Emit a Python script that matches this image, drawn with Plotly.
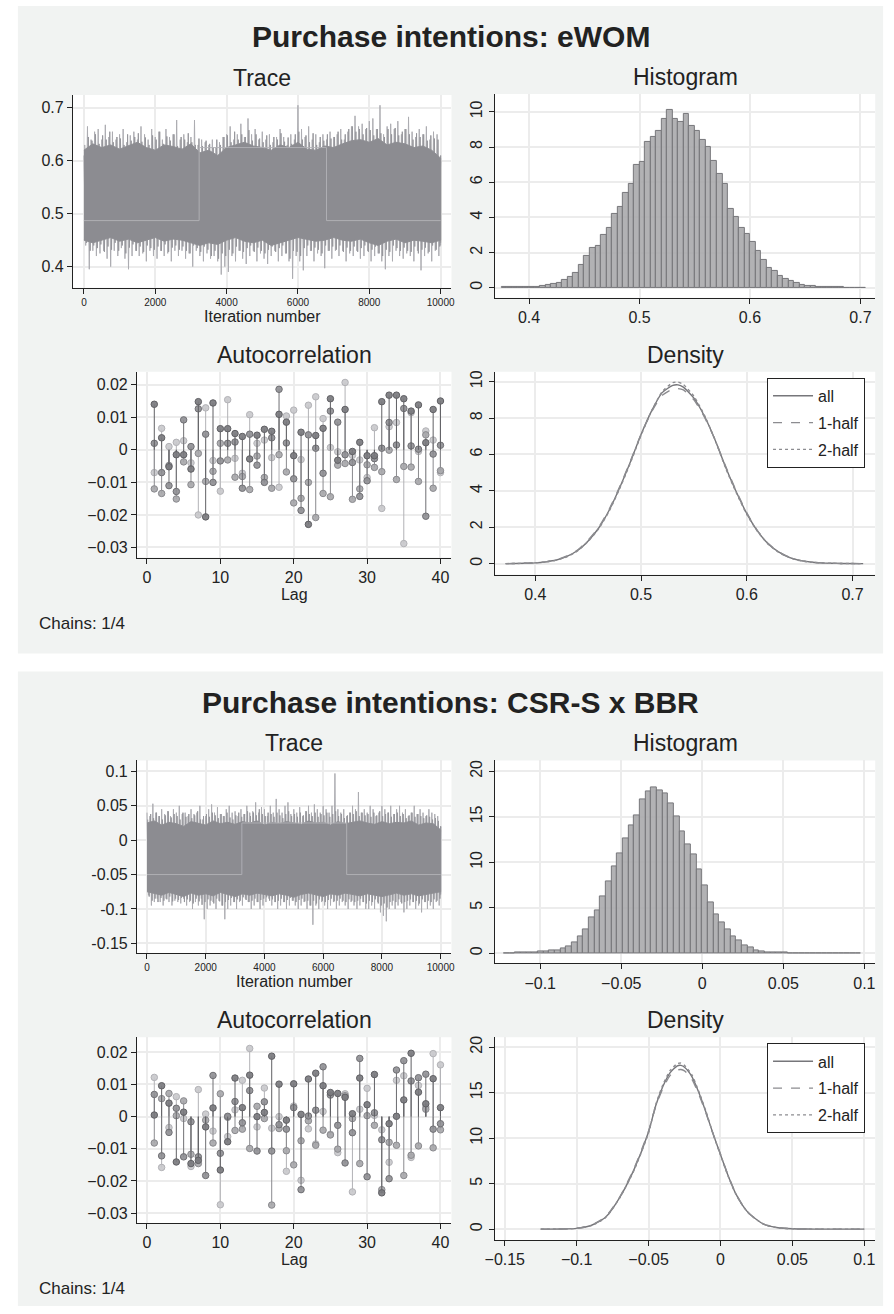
import plotly.graph_objects as go
import numpy as np

# ------------------------------------------------------------------ DATA
ITER_MAX = 10000
lags = list(range(1, 41))

# --- Panel A: Purchase intentions: eWOM
a_trace_hi = [0.610, 0.665, 0.640, 0.655, 0.660, 0.640,
              0.668, 0.645, 0.655, 0.640, 0.650,
              0.660, 0.635, 0.648, 0.655, 0.640,
              0.665, 0.650, 0.640, 0.660, 0.645,
              0.655, 0.640, 0.660, 0.645, 0.650,
              0.677, 0.640, 0.650, 0.635, 0.645,
              0.677, 0.630, 0.640, 0.635, 0.630,
              0.640, 0.625, 0.635, 0.645, 0.650,
              0.665, 0.640, 0.650, 0.670, 0.645,
              0.680, 0.650, 0.660, 0.640, 0.655,
              0.640, 0.650, 0.635, 0.645, 0.660,
              0.645, 0.630, 0.650, 0.640, 0.705,
              0.660, 0.645, 0.665, 0.640, 0.650,
              0.635, 0.650, 0.640, 0.655, 0.645,
              0.650, 0.660, 0.640, 0.655, 0.665,
              0.685, 0.665, 0.670, 0.660, 0.675,
              0.680, 0.660, 0.705, 0.650, 0.665,
              0.670, 0.660, 0.675, 0.650, 0.660,
              0.683, 0.655, 0.645, 0.660, 0.650,
              0.665, 0.640, 0.655, 0.650, 0.600]
a_trace_lo = [0.440, 0.395, 0.430, 0.420, 0.425, 0.430,
              0.415, 0.400, 0.430, 0.420, 0.435,
              0.415, 0.395, 0.420, 0.430, 0.420,
              0.425, 0.410, 0.430, 0.420, 0.415,
              0.430, 0.420, 0.425, 0.410, 0.430,
              0.420, 0.430, 0.415, 0.425, 0.400,
              0.430, 0.420, 0.410, 0.425, 0.415,
              0.420, 0.410, 0.385, 0.400, 0.390,
              0.420, 0.410, 0.430, 0.415, 0.405,
              0.420, 0.430, 0.410, 0.425, 0.415,
              0.405, 0.420, 0.430, 0.410, 0.420,
              0.425, 0.410, 0.377, 0.420, 0.410,
              0.393, 0.420, 0.430, 0.410, 0.425,
              0.420, 0.397, 0.430, 0.415, 0.430,
              0.420, 0.430, 0.410, 0.425, 0.420,
              0.430, 0.415, 0.420, 0.430, 0.410,
              0.420, 0.425, 0.410, 0.395, 0.420,
              0.410, 0.430, 0.420, 0.415, 0.425,
              0.420, 0.410, 0.430, 0.393, 0.420,
              0.425, 0.410, 0.430, 0.420, 0.440]
a_trace_hi2 = [0.630, 0.645, 0.638, 0.650, 0.632, 0.648, 0.640, 0.655, 0.635, 0.645,
               0.642, 0.630, 0.650, 0.638, 0.645, 0.652, 0.636, 0.644, 0.630, 0.648,
               0.640, 0.655, 0.632, 0.646, 0.638, 0.650, 0.628, 0.645, 0.640, 0.652,
               0.635, 0.630, 0.642, 0.628, 0.638, 0.632, 0.625, 0.640, 0.630, 0.645,
               0.648, 0.635, 0.655, 0.640, 0.650, 0.645, 0.658, 0.638, 0.650, 0.642,
               0.635, 0.648, 0.630, 0.645, 0.640, 0.652, 0.636, 0.644, 0.632, 0.650,
               0.655, 0.640, 0.648, 0.635, 0.652, 0.630, 0.645, 0.638, 0.650, 0.642,
               0.645, 0.655, 0.640, 0.650, 0.660, 0.665, 0.655, 0.660, 0.650, 0.662,
               0.658, 0.648, 0.660, 0.652, 0.645, 0.660, 0.650, 0.662, 0.648, 0.655,
               0.660, 0.650, 0.640, 0.652, 0.645, 0.650, 0.638, 0.648, 0.642, 0.640, 0.610]
a_trace_lo2 = [0.445, 0.430, 0.440, 0.435, 0.442, 0.428, 0.438, 0.432, 0.445, 0.430,
               0.440, 0.425, 0.436, 0.442, 0.430, 0.438, 0.428, 0.440, 0.435, 0.432,
               0.438, 0.430, 0.442, 0.428, 0.436, 0.440, 0.432, 0.438, 0.430, 0.425,
               0.440, 0.435, 0.428, 0.438, 0.432, 0.420, 0.430, 0.415, 0.425, 0.420,
               0.432, 0.425, 0.438, 0.430, 0.428, 0.435, 0.440, 0.428, 0.436, 0.430,
               0.425, 0.432, 0.438, 0.428, 0.435, 0.440, 0.425, 0.415, 0.430, 0.428,
               0.420, 0.435, 0.440, 0.430, 0.436, 0.432, 0.425, 0.440, 0.430, 0.438,
               0.432, 0.440, 0.428, 0.436, 0.430, 0.438, 0.428, 0.435, 0.440, 0.428,
               0.432, 0.438, 0.425, 0.420, 0.432, 0.428, 0.440, 0.435, 0.430, 0.436,
               0.430, 0.428, 0.438, 0.425, 0.432, 0.436, 0.428, 0.440, 0.432, 0.438, 0.445]
a_core_hi = [0.620, 0.632, 0.625, 0.630, 0.622, 0.628, 0.635, 0.625, 0.620, 0.630,
             0.627, 0.622, 0.632, 0.615, 0.620, 0.610, 0.625, 0.630, 0.635, 0.628,
             0.625, 0.620, 0.630, 0.625, 0.635, 0.622, 0.620, 0.628, 0.625, 0.632,
             0.638, 0.640, 0.635, 0.642, 0.630, 0.635, 0.632, 0.625, 0.628, 0.620, 0.605]
a_core_lo = [0.450, 0.445, 0.450, 0.455, 0.448, 0.452, 0.445, 0.450, 0.455, 0.448,
             0.452, 0.450, 0.445, 0.440, 0.445, 0.442, 0.450, 0.455, 0.448, 0.445,
             0.450, 0.440, 0.445, 0.450, 0.455, 0.452, 0.448, 0.450, 0.455, 0.450,
             0.448, 0.452, 0.445, 0.440, 0.448, 0.452, 0.445, 0.450, 0.448, 0.445, 0.450]
a_step_x = [0, 3230, 3230, 6800, 6800, 10000]
a_step_y = [0.487, 0.487, 0.625, 0.625, 0.487, 0.487]

a_hist_start = 0.375
a_hist_width = 0.005
a_hist = [0.02, 0.02, 0.03, 0.03, 0.04, 0.05, 0.07, 0.10, 0.14, 0.20,
          0.30, 0.45, 0.60, 0.85, 1.30, 1.80, 2.25, 2.35, 3.00, 3.40,
          4.20, 4.60, 5.40, 5.90, 7.00, 7.15, 8.30, 8.60, 8.90, 9.60,
          10.10, 9.60, 9.40, 9.90, 9.20, 8.90, 8.40, 8.00, 7.20, 6.50,
          5.90, 4.50, 4.00, 3.40, 3.05, 2.60, 2.10, 1.60, 1.15, 0.95,
          0.70, 0.50, 0.36, 0.25, 0.15, 0.10, 0.08, 0.05, 0.04, 0.03,
          0.02, 0.02, 0.01, 0.01, 0.01, 0.01]

a_ac_c1 = [0.014, 0.0037, -0.0052, -0.0015, -0.0015, -0.0059, 0.0148, -0.0206, 0.0144, 0.0065,
           0.0065, 0.005, 0.0041, -0.0028, 0.0045, 0.0063, 0.0057, 0.0109, 0.0085, -0.0018,
           0.0054, -0.0229, 0.0044, 0.0066, 0.0157, -0.0032, 0.0124, -0.0005, 0.0023, -0.0018,
           -0.0018, 0.0148, 0.0168, 0.0168, 0.0157, 0.0119, 0.0138, 0.0022, 0.0124, 0.015]
a_ac_c2 = [0.002, -0.007, -0.011, -0.0128, 0.0092, 0.001, 0.0126, 0.0048, -0.010, -0.0034,
           0.002, 0.0024, -0.0118, 0.0048, -0.0047, -0.010, 0.0037, 0.0186, 0.0021, -0.0089,
           -0.0186, 0.0046, 0.0005, -0.0072, 0.0119, 0.0085, -0.0015, -0.0039, -0.0143, -0.0095,
           -0.0027, 0.0005, 0.0084, 0.0015, 0.0127, 0.0012, 0.0002, -0.0204, -0.0013, 0.0014]
a_ac_c3 = [-0.012, -0.0134, -0.0048, -0.0151, -0.0037, -0.0107, -0.0011, -0.0097, -0.0066, 0.002,
           -0.0031, -0.0084, -0.0082, -0.0122, -0.0019, -0.0085, -0.0118, -0.0015, -0.0068, -0.0163,
           -0.0149, -0.010, -0.0208, -0.0134, -0.0144, -0.0047, -0.0042, -0.0152, -0.012, -0.0046,
           -0.0054, -0.0067, -0.0001, -0.0091, -0.0051, -0.0053, -0.0097, 0.0046, -0.0118, -0.0064]
a_ac_c4 = [-0.007, 0.0066, 0.001, 0.0023, 0.0028, -0.004, -0.020, 0.0129, -0.0033, -0.0127,
           0.0154, -0.0026, -0.0072, 0.0108, 0.002, 0.003, -0.0024, -0.0115, 0.0104, 0.0122,
           -0.003, 0.0137, 0.0163, 0.0096, 0.0007, -0.0006, 0.0207, -0.0017, -0.0031, -0.0085,
           0.0068, -0.018, 0.0071, 0.0084, -0.0288, 0.0114, -0.0005, 0.0058, 0.003, -0.007]

a_dens_x = [0.372, 0.39, 0.40, 0.41, 0.42, 0.43, 0.44, 0.45, 0.46, 0.47, 0.48, 0.49,
            0.50, 0.51, 0.52, 0.53, 0.535, 0.54, 0.55, 0.56, 0.57, 0.58, 0.59, 0.60,
            0.61, 0.62, 0.63, 0.64, 0.65, 0.66, 0.67, 0.68, 0.69, 0.71]
a_dens_all = [0.0, 0.02, 0.04, 0.10, 0.20, 0.40, 0.72, 1.25, 1.96, 2.95, 4.20, 5.60,
              7.10, 8.40, 9.40, 9.80, 9.83, 9.70, 9.10, 8.10, 6.80, 5.30, 3.95, 2.75,
              1.80, 1.10, 0.65, 0.35, 0.18, 0.09, 0.04, 0.02, 0.01, 0.0]
a_dens_h1 = [0.0, 0.02, 0.05, 0.10, 0.21, 0.42, 0.75, 1.30, 2.00, 3.00, 4.25, 5.65,
             7.10, 8.35, 9.25, 9.60, 9.62, 9.55, 9.00, 8.05, 6.80, 5.35, 4.00, 2.80,
             1.82, 1.12, 0.66, 0.36, 0.18, 0.09, 0.04, 0.02, 0.01, 0.0]
a_dens_h2 = [0.0, 0.02, 0.04, 0.09, 0.19, 0.38, 0.70, 1.22, 1.92, 2.90, 4.15, 5.55,
             7.05, 8.40, 9.45, 9.95, 9.98, 9.85, 9.20, 8.15, 6.80, 5.25, 3.90, 2.70,
             1.78, 1.08, 0.63, 0.34, 0.17, 0.08, 0.04, 0.02, 0.01, 0.0]

# --- Panel B: Purchase intentions: CSR-S x BBR
b_trace_hi = [0.040, 0.035, 0.053, 0.040, 0.035, 0.045,
              0.038, 0.042, 0.035, 0.045, 0.040,
              0.050, 0.038, 0.040, 0.035, 0.045,
              0.038, 0.040, 0.050, 0.030, 0.035,
              0.045, 0.052, 0.040, 0.048, 0.038,
              0.035, 0.045, 0.050, 0.040, 0.042,
              0.035, 0.045, 0.038, 0.050, 0.040,
              0.042, 0.055, 0.040, 0.048, 0.045,
              0.035, 0.050, 0.040, 0.060, 0.045,
              0.040, 0.050, 0.055, 0.038, 0.045,
              0.040, 0.048, 0.035, 0.042, 0.050,
              0.040, 0.052, 0.045, 0.040, 0.050,
              0.045, 0.040, 0.050, 0.097, 0.045,
              0.040, 0.045, 0.035, 0.040, 0.050,
              0.045, 0.070, 0.040, 0.045, 0.040,
              0.050, 0.045, 0.035, 0.040, 0.050,
              0.045, 0.040, 0.050, 0.038, 0.045,
              0.050, 0.040, 0.045, 0.035, 0.040,
              0.050, 0.038, 0.045, 0.040, 0.035,
              0.045, 0.040, 0.038, 0.035, 0.020]
b_trace_lo = [-0.080, -0.095, -0.090, -0.085, -0.090, -0.095,
              -0.085, -0.090, -0.095, -0.088, -0.090,
              -0.092, -0.085, -0.095, -0.090, -0.100,
              -0.090, -0.095, -0.085, -0.115, -0.100,
              -0.095, -0.090, -0.100, -0.088, -0.095,
              -0.115, -0.100, -0.095, -0.090, -0.100,
              -0.090, -0.095, -0.085, -0.090, -0.100,
              -0.095, -0.090, -0.100, -0.095, -0.090,
              -0.085, -0.095, -0.090, -0.100, -0.095,
              -0.090, -0.100, -0.095, -0.088, -0.095,
              -0.100, -0.095, -0.090, -0.100, -0.095,
              -0.123, -0.095, -0.100, -0.090, -0.095,
              -0.100, -0.095, -0.090, -0.100, -0.095,
              -0.090, -0.095, -0.100, -0.090, -0.095,
              -0.100, -0.095, -0.090, -0.100, -0.100,
              -0.095, -0.100, -0.090, -0.105, -0.110,
              -0.118, -0.100, -0.095, -0.100, -0.095,
              -0.090, -0.105, -0.100, -0.095, -0.090,
              -0.100, -0.095, -0.105, -0.090, -0.100,
              -0.095, -0.100, -0.090, -0.095, -0.080]
b_trace_hi2 = [0.030, 0.038, 0.032, 0.040, 0.035, 0.030, 0.036, 0.042, 0.033, 0.038,
               0.035, 0.030, 0.040, 0.034, 0.038, 0.032, 0.036, 0.042, 0.030, 0.035,
               0.038, 0.034, 0.040, 0.036, 0.032, 0.038, 0.035, 0.040, 0.033, 0.030,
               0.036, 0.040, 0.034, 0.038, 0.042, 0.035, 0.040, 0.036, 0.045, 0.038,
               0.035, 0.040, 0.038, 0.034, 0.040, 0.036, 0.032, 0.038, 0.042, 0.035,
               0.038, 0.034, 0.040, 0.036, 0.042, 0.038, 0.035, 0.040, 0.034, 0.038,
               0.036, 0.040, 0.034, 0.038, 0.042, 0.035, 0.038, 0.032, 0.036, 0.040,
               0.038, 0.042, 0.035, 0.040, 0.036, 0.038, 0.034, 0.040, 0.036, 0.042,
               0.035, 0.038, 0.040, 0.034, 0.038, 0.040, 0.035, 0.038, 0.032, 0.036,
               0.040, 0.034, 0.038, 0.035, 0.032, 0.036, 0.034, 0.030, 0.032, 0.028, 0.020]
b_trace_lo2 = [-0.082, -0.088, -0.085, -0.090, -0.084, -0.088, -0.086, -0.082, -0.089, -0.085,
               -0.087, -0.084, -0.090, -0.086, -0.088, -0.092, -0.085, -0.089, -0.094, -0.090,
               -0.086, -0.088, -0.092, -0.085, -0.089, -0.095, -0.090, -0.087, -0.084, -0.090,
               -0.086, -0.088, -0.083, -0.087, -0.090, -0.088, -0.085, -0.090, -0.087, -0.085,
               -0.083, -0.088, -0.086, -0.090, -0.088, -0.085, -0.090, -0.087, -0.084, -0.088,
               -0.090, -0.087, -0.085, -0.089, -0.088, -0.095, -0.088, -0.092, -0.086, -0.088,
               -0.090, -0.087, -0.085, -0.089, -0.088, -0.085, -0.088, -0.090, -0.086, -0.088,
               -0.090, -0.088, -0.085, -0.090, -0.092, -0.088, -0.090, -0.086, -0.092, -0.095,
               -0.092, -0.098, -0.090, -0.088, -0.090, -0.086, -0.092, -0.090, -0.088, -0.086,
               -0.090, -0.088, -0.092, -0.086, -0.090, -0.088, -0.090, -0.086, -0.088, -0.085, -0.078]
b_core_hi = [0.025, 0.028, 0.022, 0.026, 0.024, 0.020, 0.027, 0.025, 0.022, 0.028,
             0.024, 0.026, 0.023, 0.027, 0.025, 0.028, 0.022, 0.026, 0.024, 0.027,
             0.025, 0.023, 0.028, 0.025, 0.026, 0.022, 0.027, 0.024, 0.026, 0.028,
             0.025, 0.023, 0.027, 0.024, 0.026, 0.025, 0.028, 0.022, 0.025, 0.024, 0.015]
b_core_lo = [-0.075, -0.078, -0.080, -0.076, -0.079, -0.082, -0.077, -0.080, -0.078, -0.081,
             -0.076, -0.079, -0.082, -0.078, -0.080, -0.077, -0.079, -0.081, -0.078, -0.080,
             -0.083, -0.079, -0.077, -0.080, -0.082, -0.078, -0.080, -0.077, -0.079, -0.081,
             -0.078, -0.080, -0.082, -0.079, -0.077, -0.080, -0.078, -0.081, -0.079, -0.077, -0.075]
b_step_x = [0, 3230, 3230, 6800, 6800, 10000]
b_step_y = [-0.05, -0.05, 0.025, 0.025, -0.05, -0.05]

b_hist_start = -0.1225
b_hist_width = 0.0035
b_hist = [0.03, 0.03, 0.05, 0.05, 0.07, 0.10, 0.15, 0.20, 0.30, 0.35,
          0.50, 0.75, 1.20, 1.90, 2.60, 3.90, 4.70, 6.20, 7.90, 9.60,
          11.00, 12.60, 14.00, 15.10, 16.90, 17.80, 18.20, 17.90, 17.60, 16.50,
          15.00, 13.40, 12.00, 10.90, 9.20, 7.50, 5.60, 4.30, 3.40, 2.60,
          1.90, 1.40, 0.90, 0.60, 0.35, 0.20, 0.12, 0.08, 0.05, 0.04,
          0.03, 0.02, 0.0, 0.03, 0.03, 0.0, 0.0, 0.0, 0.0, 0.0,
          0.0, 0.03, 0.0]

b_ac_c1 = [0.0005, 0.0096, 0.0042, -0.0141, 0.0014, -0.0146, -0.0136, -0.0032, 0.0027, -0.0166,
           -0.0078, 0.012, 0.0028, 0.0129, 0.0, 0.0013, 0.0188, 0.0101, -0.0011, 0.0102,
           0.0007, 0.0117, 0.0135, 0.0096, 0.0075, 0.0072, 0.006, 0.0009, 0.012, 0.0037,
           0.0131, -0.0237, -0.0022, 0.0001, 0.0052, 0.0197, 0.0076, 0.004, 0.0118, 0.0028]
b_ac_c2 = [0.0069, -0.0122, -0.0049, 0.0026, -0.0125, -0.0016, -0.0125, -0.0183, 0.0128, -0.0114,
           0.0001, 0.0047, -0.0019, 0.0081, -0.0107, 0.0046, -0.0107, -0.0025, -0.0039, 0.0028,
           -0.0227, 0.0002, 0.002, 0.0155, 0.0067, -0.0027, -0.0144, -0.005, 0.0181, -0.0187,
           0.0012, -0.0072, -0.0193, 0.0145, 0.0174, 0.0111, 0.0121, 0.0132, -0.0039, -0.0022]
b_ac_c3 = [-0.0082, 0.0056, 0.0072, 0.0003, 0.0049, -0.0117, -0.0146, -0.0011, -0.0082, 0.0071,
           -0.0002, -0.0043, -0.0039, -0.0099, 0.0032, -0.0006, -0.0275, -0.0037, -0.0106, -0.015,
           -0.0075, -0.0013, -0.0089, -0.0042, -0.0057, -0.0101, 0.0065, -0.0006, -0.0146, 0.0003,
           -0.0027, -0.0227, -0.008, -0.0089, -0.0183, -0.012, -0.0091, 0.0023, -0.0097, -0.0041]
b_ac_c4 = [0.0122, -0.0158, -0.0034, 0.0062, -0.0006, -0.0155, 0.0084, 0.0008, -0.0045, -0.0274,
           -0.0062, 0.0021, 0.0113, 0.0212, -0.0032, 0.0089, -0.0036, 0.0, -0.017, 0.0033,
           -0.0198, -0.0038, -0.0085, 0.0016, -0.0055, -0.0112, 0.0071, -0.0234, 0.0023, 0.0088,
           0.0004, -0.0041, -0.0142, 0.0113, 0.0127, -0.0127, 0.0097, 0.003, 0.0196, 0.0161]

b_dens_x = [-0.125, -0.11, -0.10, -0.09, -0.08, -0.07, -0.06, -0.05, -0.045, -0.04,
            -0.035, -0.03, -0.0275, -0.025, -0.02, -0.015, -0.01, -0.005, 0.0, 0.005,
            0.01, 0.015, 0.02, 0.03, 0.04, 0.05, 0.06, 0.07, 0.10]
b_dens_all = [0.0, 0.02, 0.09, 0.40, 1.30, 3.50, 6.60, 10.70, 13.60, 15.70,
              17.20, 17.95, 18.00, 17.80, 16.80, 15.00, 12.80, 10.40, 8.20, 6.00,
              4.10, 2.70, 1.70, 0.55, 0.15, 0.04, 0.01, 0.005, 0.0]
b_dens_h1 = [0.0, 0.02, 0.10, 0.42, 1.35, 3.55, 6.70, 10.80, 13.50, 15.50,
             16.90, 17.50, 17.55, 17.40, 16.50, 14.80, 12.70, 10.40, 8.25, 6.05,
             4.15, 2.72, 1.72, 0.56, 0.16, 0.04, 0.01, 0.005, 0.0]
b_dens_h2 = [0.0, 0.02, 0.08, 0.38, 1.25, 3.45, 6.50, 10.60, 13.70, 15.90,
             17.45, 18.20, 18.25, 18.00, 17.00, 15.10, 12.90, 10.40, 8.15, 5.95,
             4.05, 2.68, 1.68, 0.54, 0.14, 0.04, 0.01, 0.005, 0.0]

titles = ["Purchase intentions: eWOM", "Purchase intentions: CSR-S x BBR"]
sub_titles = ["Trace", "Histogram", "Autocorrelation", "Density"]
legend_names = ["all", "1-half", "2-half"]
chains_note = "Chains: 1/4"

# ------------------------------------------------------------------ LAYOUT HELPERS
W, H = 894, 1314
FONT = "Liberation Sans, Arial, Helvetica, sans-serif"
INK = "#222222"

def fx(p):
    return p / W

def fy(p):
    return 1 - p / H

# plot boxes in pixels: (left, right, top, bottom)
boxes = {
    1: (64, 448, 94, 287), 2: (492, 878, 93, 297),
    3: (129, 448, 371, 557), 4: (492, 878, 371, 574),
    5: (129, 448, 760, 953), 6: (492, 878, 760, 963),
    7: (129, 448, 1037, 1223), 8: (492, 878, 1037, 1240),
}

def num(v, hyphen=False):
    s = ("%.4f" % v).rstrip("0").rstrip(".")
    if s in ("-0", ""):
        s = "0"
    if s.startswith("-"):
        s = ("-" if hyphen else "\u2212") + s[1:]
    return s

fig = go.Figure()

def xy(i):
    return ("x" if i == 1 else "x%d" % i), ("y" if i == 1 else "y%d" % i)

# --------------------- trace plots
def zigzag(hi, lo, off_hi, off_lo):
    xs = np.linspace(0, ITER_MAX, len(hi))
    s = xs[1] - xs[0]
    X, Y = [], []
    for k in range(len(hi)):
        X += [min(xs[k] + off_hi * s, ITER_MAX), min(xs[k] + off_lo * s, ITER_MAX)]
        Y += [hi[k], lo[k]]
    return X, Y

def add_trace_plot(i, hi, lo, hi2, lo2, core_hi, core_lo, step_x, step_y):
    xa, ya = xy(i)
    X, Y = zigzag(hi, lo, 0.0, 0.5)
    fig.add_trace(go.Scatter(x=X, y=Y, mode="lines", xaxis=xa, yaxis=ya,
                             line=dict(color="rgb(172,172,177)", width=1),
                             showlegend=False, hoverinfo="skip"))
    X, Y = zigzag(hi2, lo2, 0.25, 0.75)
    fig.add_trace(go.Scatter(x=X, y=Y, mode="lines", xaxis=xa, yaxis=ya,
                             line=dict(color="rgb(150,150,155)", width=1),
                             showlegend=False, hoverinfo="skip"))
    xc = np.linspace(0, ITER_MAX, len(core_hi))
    fig.add_trace(go.Scatter(x=list(xc) + list(xc[::-1]),
                             y=list(core_hi) + list(core_lo[::-1]),
                             mode="lines", fill="toself", xaxis=xa, yaxis=ya,
                             fillcolor="rgb(140,140,145)",
                             line=dict(color="rgb(142,142,147)", width=1),
                             showlegend=False, hoverinfo="skip"))
    fig.add_trace(go.Scatter(x=step_x, y=step_y, mode="lines", xaxis=xa, yaxis=ya,
                             line=dict(color="rgba(178,178,183,0.9)", width=1),
                             showlegend=False, hoverinfo="skip"))

add_trace_plot(1, a_trace_hi, a_trace_lo, a_trace_hi2, a_trace_lo2,
               a_core_hi, a_core_lo, a_step_x, a_step_y)
add_trace_plot(5, b_trace_hi, b_trace_lo, b_trace_hi2, b_trace_lo2,
               b_core_hi, b_core_lo, b_step_x, b_step_y)

# --------------------- histograms
def add_hist(i, start, width, heights):
    xa, ya = xy(i)
    centers = [start + width * (k + 0.5) for k in range(len(heights))]
    fig.add_trace(go.Bar(x=centers, y=heights, width=width, xaxis=xa, yaxis=ya,
                         marker=dict(color="rgba(170,170,172,0.9)",
                                     line=dict(color="rgb(118,118,122)", width=1)),
                         showlegend=False, hoverinfo="skip"))

add_hist(2, a_hist_start, a_hist_width, a_hist)
add_hist(6, b_hist_start, b_hist_width, b_hist)

# --------------------- autocorrelation
chain_styles = [
    ("rgba(200,200,203,0.9)", "rgb(178,178,182)"),
    ("rgba(166,166,170,0.9)", "rgb(138,138,142)"),
    ("rgba(142,142,146,0.9)", "rgb(112,112,116)"),
    ("rgba(122,122,126,0.92)", "rgb(96,96,100)"),
]

def add_ac(i, chains):
    xa, ya = xy(i)
    for vals, (fillc, linec) in zip(chains, chain_styles):
        X, Y = [], []
        for L, v in zip(lags, vals):
            X += [L, L, None]
            Y += [0, v, None]
        fig.add_trace(go.Scatter(x=X, y=Y, mode="lines", xaxis=xa, yaxis=ya,
                                 line=dict(color=linec, width=1),
                                 showlegend=False, hoverinfo="skip"))
        fig.add_trace(go.Scatter(x=lags, y=vals, mode="markers", xaxis=xa, yaxis=ya,
                                 marker=dict(size=6.5, color=fillc,
                                             line=dict(color=linec, width=1)),
                                 showlegend=False, hoverinfo="skip"))

add_ac(3, [a_ac_c4, a_ac_c3, a_ac_c2, a_ac_c1])
add_ac(7, [b_ac_c4, b_ac_c3, b_ac_c2, b_ac_c1])

# --------------------- densities
dashes = ["solid", "dash", "dot"]
dens_colors = ["rgb(118,118,122)", "rgb(140,140,144)", "rgb(140,140,144)"]

def add_dens(i, xs, curves, legend):
    xa, ya = xy(i)
    for name, ys, d, c in zip(legend_names, curves, dashes, dens_colors):
        fig.add_trace(go.Scatter(x=xs, y=ys, mode="lines", name=name, xaxis=xa, yaxis=ya,
                                 line=dict(color=c, width=1.4, dash=d,
                                           shape="spline", smoothing=0.6),
                                 legend=legend, legendgroup=legend + name,
                                 showlegend=True, hoverinfo="skip"))

add_dens(4, a_dens_x, [a_dens_all, a_dens_h1, a_dens_h2], "legend")
add_dens(8, b_dens_x, [b_dens_all, b_dens_h1, b_dens_h2], "legend2")

# ------------------------------------------------------------------ AXES
def axis_common(size=16):
    return dict(showline=True, linecolor=INK, linewidth=1.3, mirror=False,
                ticks="outside", ticklen=5, tickwidth=1.2, tickcolor=INK,
                showgrid=True, gridcolor="#ececec", gridwidth=1.5,
                zeroline=False, fixedrange=True,
                tickfont=dict(family=FONT, size=size, color=INK))

def ticks(vals, hyphen=False):
    return dict(tickmode="array", tickvals=vals, ticktext=[num(v, hyphen) for v in vals])

axis_specs = {
    1: dict(xr=[-304, 10304], yr=[0.360, 0.7245], xt=[0, 2000, 4000, 6000, 8000, 10000],
            yt=[0.4, 0.5, 0.6, 0.7], xs=10, xtitle="Iteration number", rot=False),
    2: dict(xr=[0.369, 0.7134], yr=[-0.57, 11.02], xt=[0.4, 0.5, 0.6, 0.7],
            yt=[0, 2, 4, 6, 8, 10], xs=16, xtitle=None, rot=True),
    3: dict(xr=[-1.34, 41.5], yr=[-0.0331, 0.024], xt=[0, 10, 20, 30, 40],
            yt=[-0.03, -0.02, -0.01, 0, 0.01, 0.02], xs=16, xtitle="Lag", rot=False),
    4: dict(xr=[0.3618, 0.7214], yr=[-0.6, 10.55], xt=[0.4, 0.5, 0.6, 0.7],
            yt=[0, 2, 4, 6, 8, 10], xs=16, xtitle=None, rot=True),
    5: dict(xr=[-336, 10369], yr=[-0.1645, 0.116], xt=[0, 2000, 4000, 6000, 8000, 10000],
            yt=[-0.15, -0.1, -0.05, 0, 0.05, 0.1], xs=10, xtitle="Iteration number",
            rot=False, hyph=True),
    6: dict(xr=[-0.128, 0.1067], yr=[-1.1, 21.2], xt=[-0.1, -0.05, 0, 0.05, 0.1],
            yt=[0, 5, 10, 15, 20], xs=16, xtitle=None, rot=True),
    7: dict(xr=[-1.34, 41.5], yr=[-0.0331, 0.0247], xt=[0, 10, 20, 30, 40],
            yt=[-0.03, -0.02, -0.01, 0, 0.01, 0.02], xs=16, xtitle="Lag", rot=False),
    8: dict(xr=[-0.1569, 0.1076], yr=[-1.2, 21.1], xt=[-0.15, -0.1, -0.05, 0, 0.05, 0.1],
            yt=[0, 5, 10, 15, 20], xs=16, xtitle=None, rot=True),
}

layout_axes = {}
shapes = []
for i, (l, r, t, b) in boxes.items():
    sp = axis_specs[i]
    xa_name = "xaxis" if i == 1 else "xaxis%d" % i
    ya_name = "yaxis" if i == 1 else "yaxis%d" % i
    xa = axis_common(sp["xs"])
    xa.update(domain=[fx(l), fx(r)], range=sp["xr"], anchor=xy(i)[1])
    xa.update(ticks(sp["xt"]))
    if sp["xtitle"]:
        xa.update(title=dict(text=sp["xtitle"], standoff=1,
                             font=dict(family=FONT, size=16, color=INK)))
    ya = axis_common(16)
    ya.update(domain=[fy(b), fy(t)], range=sp["yr"], anchor=xy(i)[0])
    ya.update(ticks(sp["yt"], sp.get("hyph", False)))
    if sp["rot"]:
        ya.update(tickangle=-90)
    layout_axes[xa_name] = xa
    layout_axes[ya_name] = ya

# panel backgrounds
panel_color = "#f1f3f2"
for (pt, pb) in [(5, 653), (671, 1306)]:
    shapes.append(dict(type="rect", xref="paper", yref="paper", layer="below",
                       x0=fx(8), x1=fx(886), y0=fy(pb), y1=fy(pt),
                       fillcolor=panel_color, line=dict(width=0)))
# white plot regions
for i in boxes:
    xa, ya = xy(i)
    shapes.append(dict(type="rect", xref=xa + " domain", yref=ya + " domain", layer="below",
                       x0=0, x1=1, y0=0, y1=1, fillcolor="white", line=dict(width=0)))

annotations = []
def ann(text, x, y, size, bold=False, xanchor="center"):
    annotations.append(dict(text=("<b>%s</b>" % text) if bold else text,
                            x=fx(x), y=fy(y), xref="paper", yref="paper",
                            xanchor=xanchor, yanchor="middle", showarrow=False,
                            font=dict(family=FONT, size=size, color=INK)))

for k, off in enumerate([0, 666]):
    ann(titles[k], 447, 36 + off, 30, bold=True)
    ann(chains_note, 27, 623 + off - (1 if k else 0), 17, xanchor="left")

for i, name in zip([1, 2, 3, 4, 5, 6, 7, 8], sub_titles * 2):
    l, r, t, b = boxes[i]
    ann(name, (l + r) / 2, t - 17, 23)

legend_common = dict(xanchor="left", yanchor="top", bgcolor="white",
                     bordercolor=INK, borderwidth=1.2, itemwidth=40,
                     tracegroupgap=3, font=dict(family=FONT, size=16, color=INK))

fig.update_layout(
    width=W, height=H, margin=dict(l=0, r=0, t=0, b=0),
    paper_bgcolor="white", plot_bgcolor="white",
    font=dict(family=FONT, color=INK),
    shapes=shapes, annotations=annotations,
    barmode="overlay", bargap=0,
    legend=dict(x=fx(768), y=fy(377), **legend_common),
    legend2=dict(x=fx(768), y=fy(1043), **legend_common),
    **layout_axes,
)

fig.write_html("out.html")
